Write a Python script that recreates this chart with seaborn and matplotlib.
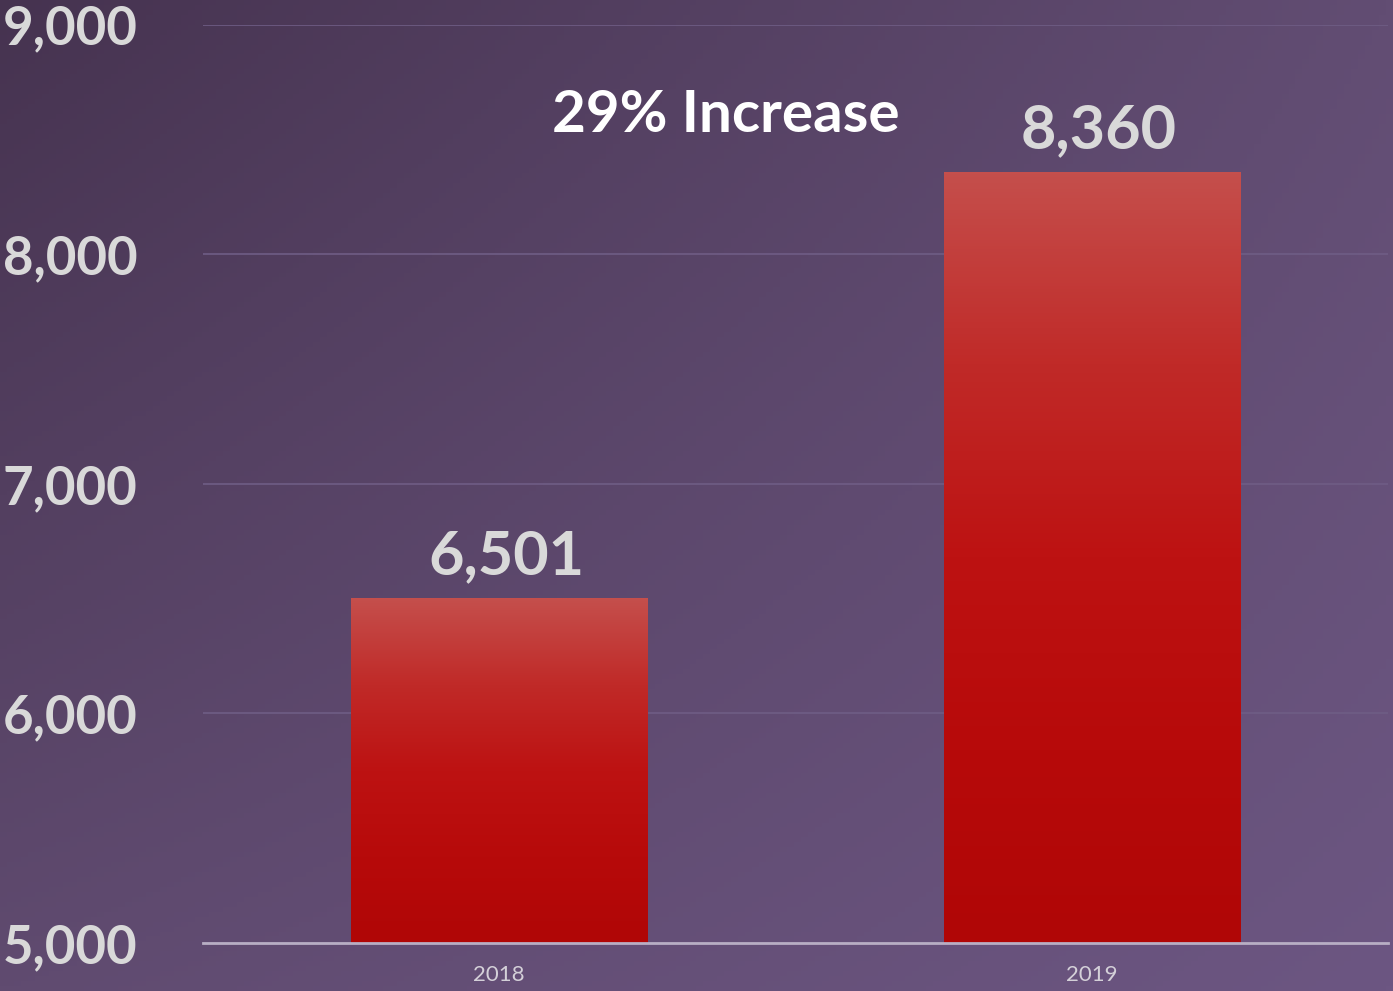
"""Bar chart: 2018 vs 2019 totals with gradient bars on a purple backdrop"""

import matplotlib

matplotlib.use("Agg")
import matplotlib.pyplot as plt
import numpy as np
import pandas as pd
import seaborn as sns
from matplotlib.colors import LinearSegmentedColormap

years = ["2018", "2019"]
totals = [6501, 8360]
value_labels = ["6,501", "8,360"]
y_ticks = [5000, 6000, 7000, 8000, 9000]
y_tick_labels = ["5,000", "6,000", "7,000", "8,000", "9,000"]
note = "29% Increase"


def main():
    """Go Main."""
    sns.set_theme(style="white")
    plt.rcParams["font.family"] = ["Lato", "DejaVu Sans"]

    df = pd.DataFrame({"year": years, "total": totals})

    fig = plt.figure(figsize=(13.93, 9.91), dpi=100)

    # diagonal purple backdrop
    bg = fig.add_axes([0, 0, 1, 1], zorder=-10)
    bg.set_axis_off()
    u = np.linspace(0, 1, 200)
    xx, yy = np.meshgrid(u, u)
    tl = np.array([70, 51, 80]) / 255
    tr = np.array([98, 77, 115]) / 255
    bl = np.array([96, 75, 112]) / 255
    br = np.array([108, 86, 130]) / 255
    img = (
        tl * ((1 - xx) * (1 - yy))[..., None]
        + tr * (xx * (1 - yy))[..., None]
        + bl * ((1 - xx) * yy)[..., None]
        + br * (xx * yy)[..., None]
    )
    bg.imshow(img, aspect="auto", extent=[0, 1, 0, 1], origin="upper")

    ax = fig.add_axes([0.1457, 0.0484, 0.8507, 0.9266])
    ax.patch.set_alpha(0)

    sns.barplot(data=df, x="year", y="total", width=0.5, color="#b30606", ax=ax)

    ax.set_ylim(5000, 9000)
    ax.set_xlim(-0.5, 1.5)

    # vertical red gradient inside each bar
    cmap = LinearSegmentedColormap.from_list(
        "bar", ["#c54f4c", "#c02a28", "#bd1212", "#b70a0a", "#b00606"]
    )
    grad = np.linspace(0, 1, 256)[:, None]
    for patch in ax.patches:
        x0 = patch.get_x()
        w = patch.get_width()
        h = patch.get_height()
        im = ax.imshow(
            grad,
            cmap=cmap,
            aspect="auto",
            extent=[x0, x0 + w, 5000, h],
            origin="upper",
            zorder=patch.get_zorder() + 0.1,
        )
        im.set_clip_path(patch)
        patch.set_edgecolor("none")
    ax.set_xlim(-0.5, 1.5)
    ax.set_ylim(5000, 9000)

    for i, (val, lab) in enumerate(zip(totals, value_labels)):
        ax.text(
            i + 0.012,
            val + 60,
            lab,
            ha="center",
            va="bottom",
            fontsize=44,
            fontweight="bold",
            color="#d9d9d9",
        )

    ax.text(
        0.383,
        8605,
        note,
        ha="center",
        va="center",
        fontsize=42,
        fontweight="bold",
        color="white",
    )

    ax.set_yticks(y_ticks)
    ax.set_yticklabels(y_tick_labels, fontsize=38, fontweight="bold", color="#d9d9d9")
    ax.tick_params(axis="y", length=0, pad=47)
    ax.tick_params(axis="x", length=0, pad=16, labelsize=16, labelcolor="#d4d0d8")
    ax.set_xlabel("")
    ax.set_ylabel("")

    ax.yaxis.grid(True, color="#6f5d85", linewidth=1.2)
    ax.set_axisbelow(True)
    sns.despine(ax=ax, left=True)
    ax.spines["bottom"].set_color("#b8aec4")
    ax.spines["bottom"].set_linewidth(2)
    ax.spines["bottom"].set_zorder(5)

    fig.savefig("out.png", dpi=100)


if __name__ == "__main__":
    main()
